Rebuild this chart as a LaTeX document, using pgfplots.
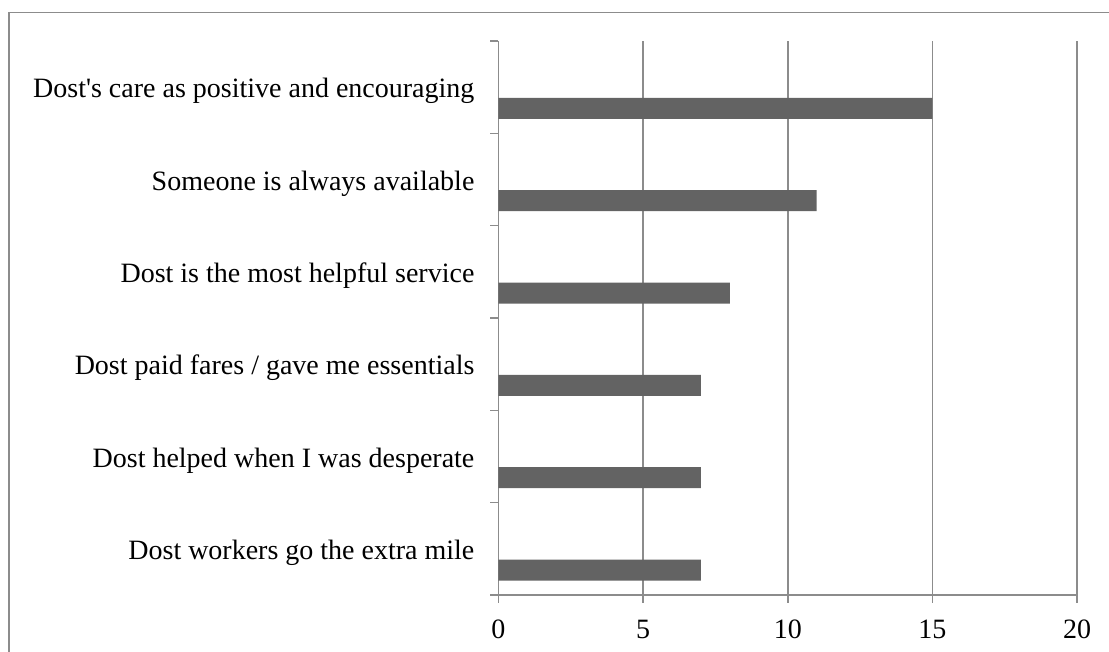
\documentclass[border=0pt]{standalone}
\usepackage{fontspec}
\setmainfont{Liberation Serif}
\usepackage{pgfplots}
\pgfplotsset{compat=1.18}

\definecolor{bargray}{HTML}{636363}
\definecolor{linegray}{HTML}{8C8C8C}

\begin{document}
\begin{tikzpicture}
  % page = 1109 x 652 px, 1 px = 0.5 pt
  \useasboundingbox (0,0) rectangle (554.5pt,326pt);
  \draw[linegray, line width=0.75pt] (4.5pt,-5pt) -- (4.5pt,319.75pt) -- (570pt,319.75pt);

  \begin{axis}[
      at={(249.25pt,28.5pt)}, anchor=south west,
      scale only axis,
      width=289.25pt, height=277pt,
      xbar, bar width=0.2275, bar shift=0pt,
      xmin=0, xmax=20,
      ymin=-0.5, ymax=5.5,
      xtick={0,5,10,15,20},
      ytick={0,1,2,3,4,5},
      yticklabels={
        Dost workers go the extra mile,
        Dost helped when I was desperate,
        Dost paid fares / gave me essentials,
        Dost is the most helpful service,
        Someone is always available,
        Dost\textquotesingle s care as positive and encouraging},
      minor ytick={-0.5,0.5,1.5,2.5,3.5,4.5,5.5},
      major y tick style={draw=none},
      minor y tick style={linegray, line width=0.75pt},
      major x tick style={linegray, line width=0.75pt},
      major tick length=4pt, minor tick length=4pt,
      tick align=outside,
      axis x line*=bottom, axis y line*=left,
      axis line style={linegray, line width=0.75pt, -},
      xmajorgrids,
      major x grid style={linegray, line width=0.75pt},
      ymajorgrids=false,
      font=\fontsize{14pt}{16pt}\selectfont,
      /pgf/number format/assume math mode=true,
      yticklabel style={anchor=east, xshift=-4.5pt, yshift=-2pt},
      xticklabel style={yshift=-5pt},
    ]
    \addplot[fill=bargray, draw=none] coordinates {
      (7,-0.23) (7,0.77) (7,1.77) (8,2.77) (11,3.77) (15,4.77)
    };
  \end{axis}
\end{tikzpicture}
\end{document}
